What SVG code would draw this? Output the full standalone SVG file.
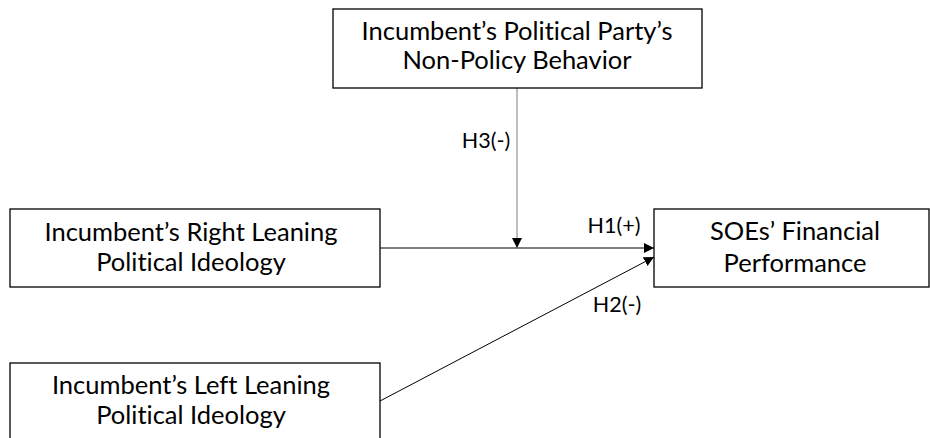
<svg xmlns="http://www.w3.org/2000/svg" width="930" height="438" viewBox="0 0 930 438">
<style>
.box{fill:#fff;stroke:#000;stroke-width:1.3}
.t{font-family:Lato,"Open Sans","Liberation Sans",sans-serif;font-size:25.5px;fill:#000;text-anchor:middle;font-variant-ligatures:none}
.l{font-family:Lato,"Open Sans","Liberation Sans",sans-serif;font-size:21.5px;fill:#000;text-anchor:middle;font-variant-ligatures:none}
.c{stroke:#000;stroke-width:1;fill:none}
</style>
<defs>
<marker id="ah" viewBox="0 0 10 10" refX="10" refY="5" markerWidth="10" markerHeight="10" markerUnits="userSpaceOnUse" orient="auto">
<path d="M0,0 L10,5 L0,10 z" fill="#000"/>
</marker>
</defs>
<rect width="930" height="438" fill="#fff"/>
<g id="connectors">
<line class="c" x1="380" y1="248" x2="654" y2="248" marker-end="url(#ah)"/>
<line class="c" x1="380" y1="401" x2="654" y2="257" marker-end="url(#ah)"/>
<line class="c" x1="517" y1="88" x2="517" y2="248" style="stroke:#7f7f7f" marker-end="url(#ah)"/>
<text class="l" x="486" y="148">H3(-)</text>
<text class="l" x="614" y="233">H1(+)</text>
<text class="l" x="617" y="312">H2(-)</text>
</g>
<g id="moderator">
<rect class="box" x="333" y="9" width="369" height="79"/>
<text class="t" x="517" y="40">Incumbent’s Political Party’s</text>
<text class="t" x="517" y="69">Non-Policy Behavior</text>
</g>
<g id="right">
<rect class="box" x="10" y="209" width="370" height="78"/>
<text class="t" x="191" y="241">Incumbent’s Right Leaning</text>
<text class="t" x="191" y="271">Political Ideology</text>
</g>
<g id="left">
<rect class="box" x="10" y="363" width="370" height="80"/>
<text class="t" x="191" y="394">Incumbent’s Left Leaning</text>
<text class="t" x="191" y="424">Political Ideology</text>
</g>
<g id="soe">
<rect class="box" x="654" y="209" width="275" height="78"/>
<text class="t" x="795" y="240">SOEs’ Financial</text>
<text class="t" x="795" y="272">Performance</text>
</g>
</svg>
